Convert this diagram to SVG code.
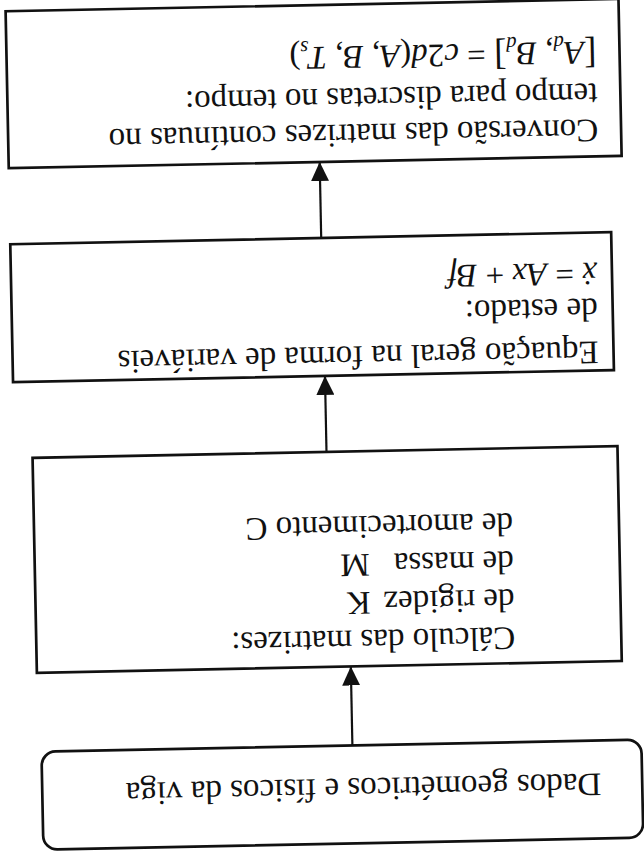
<svg xmlns="http://www.w3.org/2000/svg" width="644" height="854" viewBox="0 0 644 854">
<defs>
<style>
.box{fill:#fff;stroke:#111;stroke-width:2.7}
.t{font-family:"Liberation Serif","Times New Roman",serif;font-size:33px;fill:#111}
.i{font-style:italic}
.sub{font-size:21px;font-style:italic}
.con{stroke:#111;stroke-width:2.2;fill:none}
</style>
<marker id="ah" viewBox="0 0 19 18" refX="19" refY="9" markerWidth="19" markerHeight="18" markerUnits="userSpaceOnUse" orient="auto">
<path d="M0,0 L19,9 L0,18 Z" fill="#111"/>
</marker>
</defs>
<rect width="644" height="854" fill="#fff"/>
<g transform="rotate(178.85 322 427)">
<g id="n-dados">
<rect class="box" x="9" y="10" width="600" height="98" rx="14"/>
<text class="t" x="50" y="75">Dados geométricos e físicos da viga</text>
</g>
<g id="n-calculo">
<rect class="box" x="27" y="187" width="585" height="215"/>
<text class="t" x="133" y="223">Cálculo das matrizes:</text>
<text class="t" x="133" y="261">de rigidez<tspan x="277">K</tspan></text>
<text class="t" x="133" y="299">de massa<tspan x="277">M</tspan></text>
<text class="t" x="133" y="337">de amortecimento C</text>
</g>
<g id="n-equacao">
<rect class="box" x="29" y="478" width="601" height="138"/>
<text class="t" x="44" y="507">Equação geral na forma de variáveis</text>
<text class="t" x="44" y="550">de estado:</text>
<text class="t" x="44" y="586"><tspan class="i">ẋ</tspan> = <tspan class="i">Ax</tspan> + <tspan class="i">Bf</tspan></text>
</g>
<g id="n-conversao">
<rect class="box" x="17" y="692" width="613" height="157"/>
<text class="t" x="40" y="729">Conversão das matrizes contínuas no</text>
<text class="t" x="40" y="765">tempo para discretas no tempo:</text>
<text class="t" x="40" y="807"><tspan font-size="37">[</tspan><tspan class="i">A</tspan><tspan class="sub" dy="6">d</tspan><tspan dy="-6">, </tspan><tspan class="i">B</tspan><tspan class="sub" dy="6">d</tspan><tspan dy="-6" font-size="37">]</tspan> = <tspan class="i">c</tspan>2<tspan class="i">d</tspan>(<tspan class="i">A</tspan>, <tspan class="i">B</tspan>, <tspan class="i">T</tspan><tspan class="sub" dy="6">s</tspan><tspan dy="-6">)</tspan></text>
</g>
<g id="connectors">
<line class="con" x1="298" y1="108" x2="298" y2="187" marker-end="url(#ah)"/>
<line class="con" x1="318" y1="402" x2="318" y2="478" marker-end="url(#ah)"/>
<line class="con" x1="319" y1="616" x2="319" y2="692" marker-end="url(#ah)"/>
</g>
</g>
</svg>
